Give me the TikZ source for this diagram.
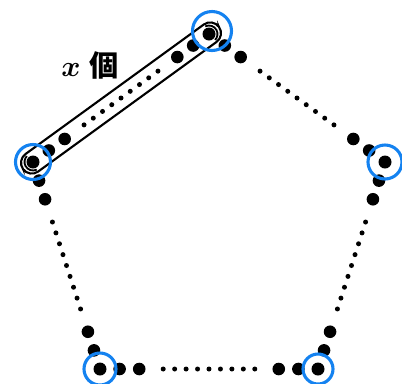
\documentclass[tikz,border=0pt]{standalone}
\usepackage{amsmath,amssymb,bm}
\usepackage{fontspec}
\newfontfamily\cjk{Noto Sans CJK JP}
\usepackage{tikz}
\usetikzlibrary{calc}
\definecolor{ringblue}{RGB}{20,130,240}

\begin{document}
\begin{tikzpicture}[x=0.025cm,y=-0.025cm,
    ring/.style={ringblue,line width=2.2pt},
    capsule/.style={draw,line width=1.5pt,rounded corners=0.27cm,minimum width=6.05cm,minimum height=0.54cm,inner sep=0pt}]
  \useasboundingbox (0,0) rectangle (402,383);

  % 正五角形の頂点
  \coordinate (v1) at (209,34);
  \coordinate (v2) at (385,162);
  \coordinate (v3) at (318,369);
  \coordinate (v4) at (100,369);
  \coordinate (v5) at (33,162);

  % 辺上の点
  \foreach \a/\b in {v5/v1,v1/v2,v2/v3,v3/v4,v4/v5} {
    \foreach \t in {0.09,0.18,0.82,0.91}
      \fill ($(\a)!\t!(\b)$) circle (6.3);
    \foreach \k [evaluate=\k as \t using 0.29+0.0525*\k] in {0,...,8}
      \fill ($(\a)!\t!(\b)$) circle (2.5);
  }
  \foreach \v in {v1,v2,v3,v4,v5}
    \fill (\v) circle (6.5);

  % 左上の辺を囲む
  \node[capsule,rotate=36] (grp) at ($(v5)!0.5!(v1)$) {};
  \draw[line width=1.3pt] ($(v5)+(64:8.5)$) arc[start angle=64,end angle=224,radius=8.5];
  \draw[line width=1.3pt] ($(v1)+(-116:8.5)$) arc[start angle=-116,end angle=44,radius=8.5];
  \node (lbl) at (90,65) {\huge$\bm{x}$ \cjk\bfseries 個};

  % 頂点の丸
  \draw[ring] (212,31) circle (19.5);
  \draw[ring] (v2) circle (17);
  \draw[ring] (v3) circle (15);
  \draw[ring] (v4) circle (16);
  \draw[ring] (v5) circle (17.5);
\end{tikzpicture}
\end{document}
